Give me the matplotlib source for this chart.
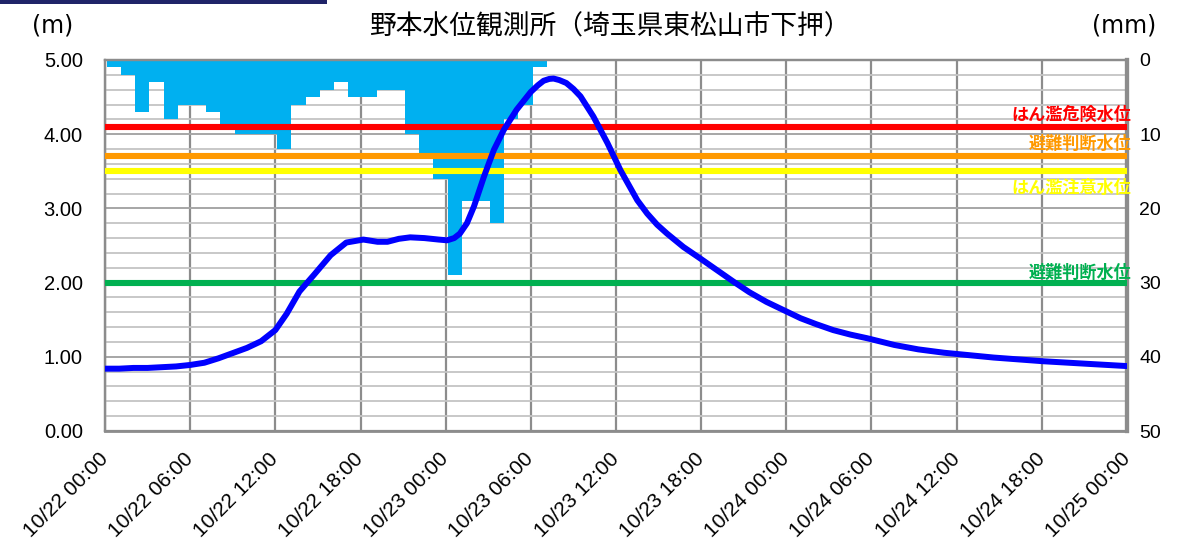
import matplotlib
matplotlib.use("Agg")
import matplotlib.pyplot as plt
from matplotlib.patches import Rectangle
import numpy as np

# ---------------- data ----------------
title = "野本水位観測所（埼玉県東松山市下押）"
xtick_hours = list(range(0, 73, 6))
xtick_labels = ["10/22 00:00", "10/22 06:00", "10/22 12:00", "10/22 18:00",
                "10/23 00:00", "10/23 06:00", "10/23 12:00", "10/23 18:00",
                "10/24 00:00", "10/24 06:00", "10/24 12:00", "10/24 18:00",
                "10/25 00:00"]

# hourly rainfall (mm), hour index from 10/22 00:00
rain_hours = list(range(0, 31))
rain_mm = [1, 2, 7, 3, 8, 6, 6, 7, 9, 10, 10, 10, 12, 6, 5, 4, 3, 5, 5, 4, 4,
           10, 13, 16, 29, 19, 19, 22, 8, 6, 1]

# water level (m)
level_hours = [0, 1, 2, 3, 4, 5, 6, 7, 8, 9, 10, 11, 12, 12.8, 13.7, 14.7, 15.9,
               17.0, 18.2, 19.2, 19.9, 20.7, 21.5, 22.5, 23.5, 24.1, 24.6, 25.0,
               25.5, 26.0, 26.7, 27.4, 28.1, 29.0, 30.0, 30.5, 30.9, 31.3, 31.6,
               32.0, 32.5, 33.0, 33.5, 34.4, 35.4, 36.3, 37.5, 38.2, 38.9, 39.6,
               40.75, 41.9, 43.1, 44.3, 45.4, 46.6, 47.8, 49.0, 50.1, 51.3, 52.5,
               53.7, 55.6, 57.3, 59.1, 62.6, 66.1, 69.7, 72]
level_m = [0.84, 0.84, 0.85, 0.85, 0.86, 0.87, 0.89, 0.92, 0.98, 1.05, 1.12, 1.21,
           1.36, 1.58, 1.88, 2.10, 2.37, 2.54, 2.58, 2.55, 2.55, 2.59, 2.61, 2.60,
           2.58, 2.57, 2.60, 2.66, 2.80, 3.03, 3.43, 3.79, 4.06, 4.33, 4.57, 4.66,
           4.72, 4.745, 4.75, 4.73, 4.69, 4.61, 4.51, 4.24, 3.88, 3.52, 3.11,
           2.93, 2.78, 2.66, 2.48, 2.33, 2.17, 2.01, 1.87, 1.74, 1.63, 1.52, 1.44,
           1.36, 1.30, 1.25, 1.16, 1.10, 1.055, 0.99, 0.94, 0.90, 0.875]

threshold_names = ["はん濫危険水位", "避難判断水位", "はん濫注意水位", "避難判断水位"]
threshold_values = [4.1, 3.7, 3.5, 2.0]
threshold_colors = ["#FF0000", "#FF9900", "#FFFF00", "#00B050"]
label_offsets_px = [12, 12.5, -16.5, 10]

left_ticks = [0, 1, 2, 3, 4, 5]
right_ticks = [0, 10, 20, 30, 40, 50]

# ---------------- figure ----------------
CJK = ["Noto Sans CJK JP", "DejaVu Sans"]
W, H = 1180, 543
fig = plt.figure(figsize=(W / 100, H / 100), dpi=100)
L, R, T, B = 105, 1127, 60, 431
ax2 = fig.add_axes([L / W, 1 - B / H, (R - L) / W, (B - T) / H])
ax = ax2.twinx()
ax.yaxis.tick_left()
ax.yaxis.set_label_position("left")
ax2.yaxis.tick_right()
ax.set_zorder(ax2.get_zorder() + 1)
ax.patch.set_visible(False)

ax2.set_xlim(0, 72)
ax2.set_ylim(50, 0)
ax.set_ylim(0, 5)

# grid on rain axis (below bars)
ax2.set_yticks(right_ticks)
ax2.set_yticks(np.arange(0, 51, 2), minor=True)
ax2.set_xticks(xtick_hours)
ax2.grid(axis="y", which="minor", color="#C4C4C4", lw=1.3, zorder=0)
ax2.grid(axis="y", which="major", color="#A6A6A6", lw=1.4, zorder=0)
ax2.grid(axis="x", which="major", color="#8C8C8C", lw=1.6, zorder=0)
ax2.set_axisbelow(True)

# rain bars
ax2.bar(np.array(rain_hours) + 0.13, rain_mm, width=1.0, align="edge",
        color="#00B0F0", edgecolor="none", zorder=2)

# threshold lines
for v, c in zip(threshold_values, threshold_colors):
    ax.plot([0, 72], [v, v], color=c, lw=4.4, solid_capstyle="butt", zorder=3)

for name, v, c, off in zip(threshold_names, threshold_values, threshold_colors,
                           label_offsets_px):
    ax.annotate(name, xy=(72, v), xytext=(4.5 * 0.72, off * 0.72),
                textcoords="offset points", ha="right", va="center",
                color=c, fontsize=12.3, fontweight="bold", family=CJK, zorder=4)

# water level curve
ax.plot(level_hours, level_m, color="#0000FF", lw=4.3, solid_joinstyle="round",
        solid_capstyle="round", zorder=5)

# ticks
ax.set_yticks(left_ticks)
ax.set_yticklabels([f"{v:.2f}" for v in left_ticks], family="Liberation Sans",
                   fontsize=14.5)
ax2.set_yticklabels([str(v) for v in right_ticks], family="Liberation Sans",
                    fontsize=14)
ax.tick_params(axis="y", length=0, pad=16)
ax2.tick_params(axis="y", which="both", length=0, pad=9)
ax2.set_xticklabels(xtick_labels, rotation=45, ha="right", va="center",
                    rotation_mode="anchor", family="Liberation Sans", fontsize=15)
ax2.tick_params(axis="x", length=0, pad=18)
ax.tick_params(axis="x", length=0, labelbottom=False)

for a in (ax, ax2):
    for s in a.spines.values():
        s.set_color("#8C8C8C")
        s.set_linewidth(1.6)
ax.spines["right"].set_linewidth(3)
ax2.spines["right"].set_linewidth(3)
ax.spines["bottom"].set_linewidth(2)

# texts
fig.text(610 / W, 1 - 27 / H, title, ha="center", va="center", fontsize=19.3,
         family=CJK)
fig.text(53 / W, 1 - 25 / H, "(m)", ha="center", va="center", fontsize=17,
         family="DejaVu Sans")
fig.text(1124 / W, 1 - 25 / H, "(mm)", ha="center", va="center", fontsize=17,
         family="DejaVu Sans")

# navy header strip top-left
fig.add_artist(Rectangle((0, 1 - 3.5 / H), 327 / W, 3.5 / H,
                         transform=fig.transFigure, color="#1F2468", lw=0))

fig.savefig("out.png", dpi=100)
